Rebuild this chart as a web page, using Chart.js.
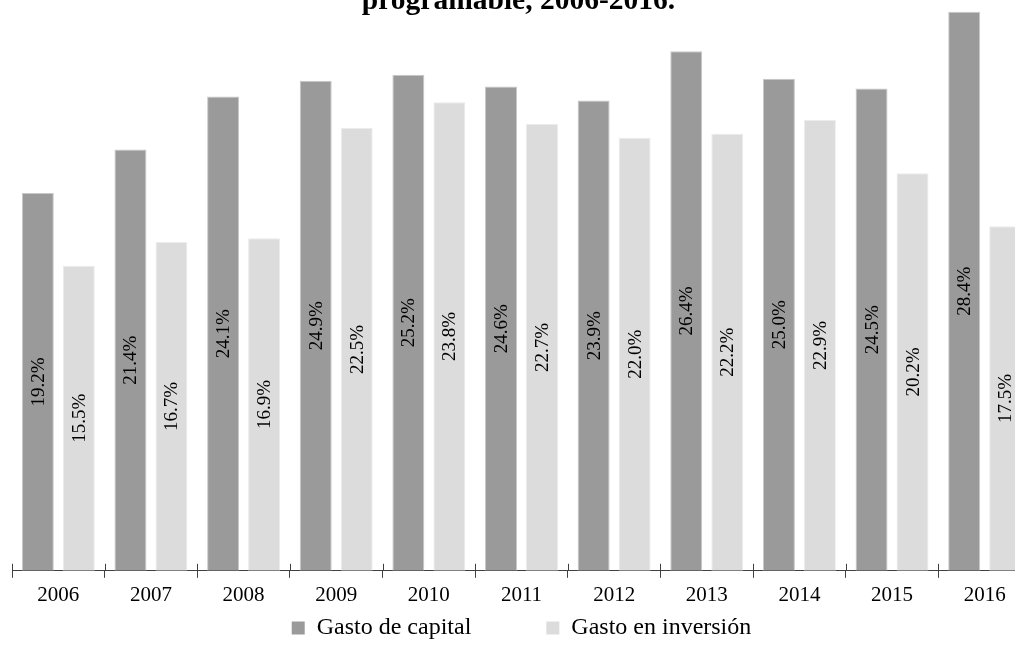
<!DOCTYPE html>
<html>
<head>
<meta charset="utf-8">
<script src="https://cdn.jsdelivr.net/npm/chart.js@4/dist/chart.umd.min.js"></script>
<style>
  html, body { margin: 0; padding: 0; background: #fff; overflow: hidden; }
  #wrap { position: absolute; left: 0; top: 0; width: 1043px; height: 650px; }
</style>
</head>
<body>
<div id="wrap"><canvas id="gastoChart" width="1043" height="650"></canvas></div>
<script>
// años y porcentajes
var years = ["2006", "2007", "2008", "2009", "2010", "2011", "2012", "2013", "2014", "2015", "2016"];
var gastoCapital = [19.2, 21.4, 24.1, 24.9, 25.2, 24.6, 23.9, 26.4, 25.0, 24.5, 28.4];
var gastoInversion = [15.5, 16.7, 16.9, 22.5, 23.8, 22.7, 22.0, 22.2, 22.9, 20.2, 17.5];
var seriesNames = ["Gasto de capital", "Gasto en inversión"];
var titleText = "programable, 2006-2016.";

var serif = "'Liberation Serif', 'Times New Roman', serif";

// etiquetas verticales dentro de cada barra
var barLabels = {
    id: "barLabels",
    afterDatasetsDraw: function (chart) {
        var ctx = chart.ctx;
        ctx.save();
        ctx.font = "19px " + serif;
        ctx.fillStyle = "#000";
        ctx.textAlign = "center";
        ctx.textBaseline = "middle";
        chart.data.datasets.forEach(function (ds, i) {
            chart.getDatasetMeta(i).data.forEach(function (bar, j) {
                ctx.save();
                ctx.translate(bar.x, (bar.y + bar.base) / 2);
                ctx.rotate(-Math.PI / 2);
                ctx.fillText(ds.data[j].toFixed(1) + "%", 0, 1);
                ctx.restore();
            });
        });
        ctx.restore();
    }
};

// marcas del eje que cruzan la linea hacia arriba + titulo
var extras = {
    id: "extras",
    afterDraw: function (chart) {
        var ctx = chart.ctx;
        var xs = chart.scales.x;
        var step = (xs.right - xs.left) / years.length;
        ctx.save();
        ctx.strokeStyle = "#404040";
        ctx.lineWidth = 1;
        ctx.beginPath();
        for (var i = 0; i <= years.length; i++) {
            var x = Math.round(xs.left + i * step) + 0.5;
            ctx.moveTo(x, xs.top - 7);
            ctx.lineTo(x, xs.top);
        }
        ctx.stroke();

        ctx.font = "bold 29.5px " + serif;
        ctx.fillStyle = "#000";
        ctx.textAlign = "center";
        ctx.textBaseline = "alphabetic";
        ctx.fillText(titleText, (chart.chartArea.left + chart.chartArea.right) / 2 - 3, 9);
        ctx.restore();
    }
};

var canvasElement = document.getElementById("gastoChart");
var config = {
    type: "bar",
    data: {
        labels: years,
        datasets: [{
            label: seriesNames[0],
            data: gastoCapital,
            backgroundColor: "#9a9a9a",
            borderColor: "#c8c8c8",
            borderWidth: 1,
            categoryPercentage: 0.885,
            barPercentage: 0.78
        }, {
            label: seriesNames[1],
            data: gastoInversion,
            backgroundColor: "#dcdcdc",
            borderColor: "#ececec",
            borderWidth: 1,
            categoryPercentage: 0.885,
            barPercentage: 0.78
        }]
    },
    options: {
        responsive: false,
        animation: false,
        devicePixelRatio: 1,
        layout: { padding: { left: 12, right: 12, top: 0, bottom: 0 } },
        scales: {
            x: {
                grid: { display: true, drawOnChartArea: false, drawTicks: true, tickLength: 7, color: "#404040", offset: true },
                border: { display: true, color: "#404040", width: 1 },
                ticks: { color: "#000", font: { family: serif, size: 21 }, padding: 5, maxRotation: 0 }
            },
            y: {
                display: false,
                min: 0,
                max: 29
            }
        },
        plugins: {
            legend: {
                position: "bottom",
                labels: {
                    color: "#000",
                    font: { family: serif, size: 24 },
                    boxWidth: 13,
                    boxHeight: 13,
                    padding: 3,
                    generateLabels: function (chart) {
                        var items = Chart.defaults.plugins.legend.labels.generateLabels(chart);
                        items.forEach(function (it) { it.lineWidth = 0; });
                        // separacion entre las dos entradas
                        items[0].text = items[0].text + "            ";
                        return items;
                    }
                }
            },
            title: { display: false },
            tooltip: { enabled: false }
        }
    },
    plugins: [barLabels, extras]
};

var barChart = new Chart(canvasElement, config);
</script>
</body>
</html>
